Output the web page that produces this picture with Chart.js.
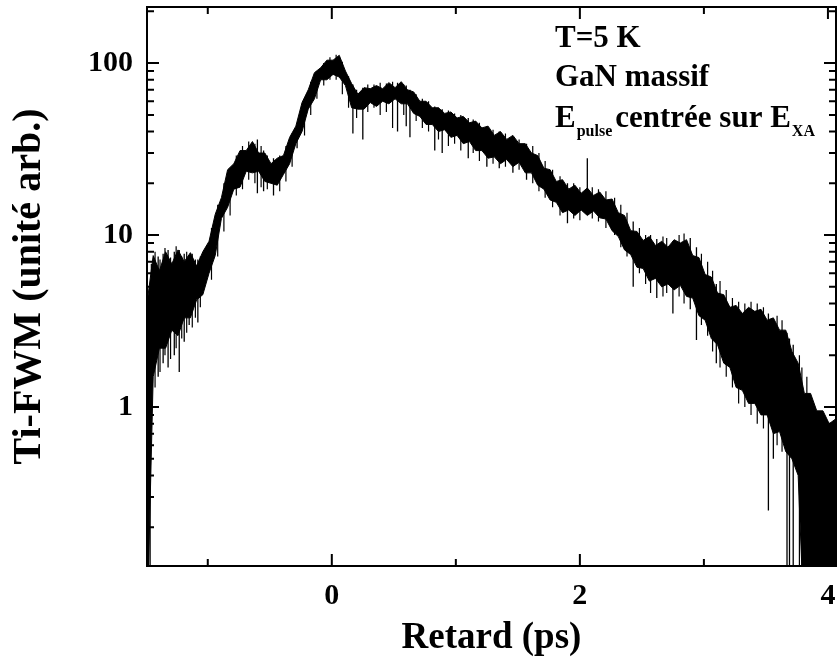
<!DOCTYPE html>
<html>
<head>
<meta charset="utf-8">
<script src="https://cdn.jsdelivr.net/npm/chart.js@4/dist/chart.umd.min.js"></script>
<style>
  html, body { margin: 0; padding: 0; background: #fff; }
  #wrap { width: 837px; height: 666px; }
</style>
</head>
<body>
<div id="wrap"><canvas id="chart"></canvas></div>
<script>
// delay grid (ps) and the upper / lower edge of the noisy trace
const delay = [-1.49,-1.44,-1.39,-1.34,-1.29,-1.24,-1.19,-1.14,-1.09,-1.04,-0.99,-0.94,-0.89,-0.84,-0.79,-0.74,-0.69,-0.64,-0.59,-0.54,-0.49,-0.44,-0.39,-0.34,-0.29,-0.24,-0.19,-0.14,-0.09,-0.04,
  0.01,0.06,0.11,0.16,0.21,0.26,0.31,0.36,0.41,0.46,0.51,0.56,0.61,0.66,0.71,0.76,0.81,0.86,0.91,0.96,
  1.01,1.06,1.11,1.16,1.21,1.26,1.31,1.36,1.41,1.46,1.51,1.56,1.61,1.66,1.71,1.76,1.81,1.86,1.91,1.96,
  2.01,2.06,2.11,2.16,2.21,2.26,2.31,2.36,2.41,2.46,2.51,2.56,2.61,2.66,2.71,2.76,2.81,2.86,2.91,2.96,
  3.01,3.06,3.11,3.16,3.21,3.26,3.31,3.36,3.41,3.46,3.51,3.56,3.61,3.66,3.71,3.76,3.81,3.86,3.91,3.96,4.01,4.06];
const upper = [4.0,7.6,6.2,8.0,6.8,8.2,7.0,7.9,6.6,8.0,9.2,13.2,16.5,24,26,31,31,35,30,30,26,28,29,37,43,59,70,88,94,104,
  104,111,90,76,66,72,71,74,71,77,72,78,70,68,60,60,55,55,51,52,
  48,49,45,46,42,43,38,40,36,38,34,34,30,29,24.5,24,20.5,21,18.5,19.5,
  17.5,18.8,17,17.8,16,16.2,13.5,13,10.6,10.5,9.3,9.8,8.7,9.2,8.5,9.4,9.0,9.4,7.6,7.4,
  5.9,5.7,4.6,4.5,3.8,3.9,3.5,3.8,3.6,3.7,3.2,3.3,2.8,2.8,2.1,1.8,1.2,1.2,0.95,0.95,0.8,0.85];
const lower = [0.05,1.5,2.2,2.2,2.8,2.6,3.3,3.3,4.2,4.5,6.0,7.6,12.5,14.5,18.5,19,23.5,23,23.5,20.5,20,19.5,22.5,26,34,40,54,62,80,80,
  86,83,74,55,54,54,59,56,60,58,62,58,58,51,49,44,44,40,41,37,
  38,34,35,31,31,28,28.5,26,27.5,25,26.5,23,23,19.5,18.5,16,15.5,13.5,14,13,
  14,13,13.8,12.6,12.4,10.6,9.8,8.2,7.7,6.5,6.4,5.4,5.6,5.0,5.2,4.8,5.1,4.4,4.3,3.4,
  3.2,2.5,2.3,1.8,1.7,1.3,1.25,1.05,1.05,0.9,0.9,0.7,0.72,0.55,0.5,0.4,0.05,0.05,0.05,0.05,0.05,0.05];

// deep isolated dips / peaks: delay, top end, bottom end
const spikeDelay  = [-1.48,-1.465,-1.40,-1.36,-1.32,-1.27,-1.23,-1.19,-1.15,-1.08,-0.60,-0.55,-0.47,-0.28,0.17,0.25,0.53,0.60,0.63,0.83,0.89,1.10,1.25,1.35,1.46,1.57,1.90,2.06,2.43,2.62,2.75,2.89,2.94,3.10,3.52,3.56,3.67,3.69,3.72];
const spikeTop    = [3,2,7.5,7.8,8.2,8.0,8.2,7.8,7.6,7.2,36,31,28,44,75,72,77,74,70,56,54,48,43,40,37,34,20,28,12,9.5,9.2,9.6,8.5,5.2,3.5,3.2,2.7,2.5,2.3];
const spikeBottom = [0.05,0.05,1.5,1.8,1.7,2.0,1.6,2.4,3.0,3.1,17.5,18,17,32,39,36,40,43,37,31,30,28,25,24.5,23,21,11.7,14,5,4.3,3.5,3.7,2.45,1.8,0.25,0.5,0.05,0.05,0.05];

// smaller noise strokes that roughen the edges of the trace
const rippleDelay  = [-1.455,-1.425,-1.385,-1.345,-1.30,-1.255,-1.21,-1.17,-1.125,-1.10,-1.06,-0.97,-0.92,-0.87,-0.82,-0.77,-0.72,-0.67,-0.62,-0.57,
  -0.52,-0.42,-0.37,-0.32,-0.22,-0.17,-0.12,-0.065,-0.015,0.035,0.085,0.135,0.20,0.29,0.34,0.39,0.44,0.49,0.58,0.68,
  0.73,0.78,0.86,0.94,0.99,1.04,1.14,1.19,1.30,1.40,1.51,1.62,1.67,1.72,1.78,1.84,1.95,2.00,2.10,2.15,
  2.21,2.28,2.33,2.38,2.48,2.53,2.57,2.67,2.70,2.80,2.84,2.98,3.03,3.07,3.13,3.18,3.23,3.28,3.33,3.38,3.43,3.48,3.59,3.63,3.77,3.79,3.83];
const rippleTop    = [6.8,8,7.2,8.4,7.4,8.6,7.5,8.0,7.8,7.2,7.5,11,15,20,24,29,33,35,34,33,
  29,29,33,39,62,78,90,100,108,112,102,84,70,75,75,77,76,78,75,66,
  62,60,55,53,51,50,47,45,41,39,36,33,30,27,24,22,20,19,19,18.5,
  18,16.5,15,13.5,11,10,10,9.8,9.6,10,10.2,7.8,7,6.2,5.4,4.8,4.3,4.1,4,4.1,4,3.8,3.4,3.2,2.0,1.7,1.5];
const rippleBottom = [0.9,1.3,1.6,2.0,1.9,2.2,2.5,2.7,2.9,3.3,3.8,5.5,7.5,10.5,13,17,18.5,21,20,19,
  18.5,18,20.5,25,38,50,62,74,80,80,66,55,48,52,55,50,52,42,50,46,
  42,40,36,33,34,31,30,27,26,25,24,20,18,16.5,14.5,13,12.5,12.2,12.5,12,
  11,10,8.5,7.5,6,5.2,4.6,4.4,4.6,4.4,4.0,3.0,2.6,2.1,1.7,1.5,1.3,1.05,1.0,0.9,0.8,0.75,0.6,0.55,0.05,0.05,0.05];

const xMajor = [0, 2, 4];
const xMinor = [-1, 1, 3];
const yMajor = [1, 10, 100];
const yMinor = [0.2,0.3,0.4,0.5,0.6,0.7,0.8,0.9,2,3,4,5,6,7,8,9,20,30,40,50,60,70,80,90,200];

const FONT = "'Liberation Serif', 'Times New Roman', serif";

const upperPts = delay.map((d, i) => ({ x: d, y: upper[i] }));
const lowerPts = delay.map((d, i) => ({ x: d, y: lower[i] }));
function strokes(xs, tops, bottoms) {
  const pts = [];
  xs.forEach((d, i) => pts.push({ x: d, y: tops[i] }, { x: d, y: bottoms[i] }, { x: d, y: null }));
  return pts;
}

// inward ticks on all four sides plus the frame
const frameTicks = {
  id: 'frameTicks',
  afterDraw(chart) {
    const { ctx, chartArea: a, scales: { x, y } } = chart;
    ctx.save();
    ctx.strokeStyle = '#000';
    ctx.lineWidth = 2;
    ctx.strokeRect(a.left, a.top, a.right - a.left, a.bottom - a.top);
    const xt = (v, len) => {
      const px = x.getPixelForValue(v);
      ctx.beginPath();
      ctx.moveTo(px, a.bottom); ctx.lineTo(px, a.bottom - len);
      ctx.moveTo(px, a.top); ctx.lineTo(px, a.top + len);
      ctx.stroke();
    };
    const yt = (v, len) => {
      const py = y.getPixelForValue(v);
      if (py < a.top || py > a.bottom) return;
      ctx.beginPath();
      ctx.moveTo(a.left, py); ctx.lineTo(a.left + len, py);
      ctx.moveTo(a.right, py); ctx.lineTo(a.right - len, py);
      ctx.stroke();
    };
    xMajor.forEach(v => xt(v, 12));
    xMinor.forEach(v => xt(v, 7));
    yMajor.forEach(v => yt(v, 12));
    yMinor.forEach(v => yt(v, 7));
    ctx.restore();
  }
};

// sample description in the upper right corner
const notes = {
  id: 'notes',
  afterDraw(chart) {
    const ctx = chart.ctx;
    ctx.save();
    ctx.fillStyle = '#000';
    ctx.textBaseline = 'alphabetic';
    ctx.textAlign = 'left';
    const big = 'bold 31px ' + FONT, small = 'bold 16px ' + FONT;
    ctx.font = big;
    ctx.fillText('T=5 K', 555, 47);
    ctx.fillText('GaN massif', 555, 86);
    let x0 = 555;
    ctx.fillText('E', x0, 127);
    x0 += ctx.measureText('E').width + 1;
    ctx.font = small;
    ctx.fillText('pulse', x0, 136);
    x0 += ctx.measureText('pulse').width + 3;
    ctx.font = big;
    ctx.fillText('centrée sur E', x0, 127);
    x0 += ctx.measureText('centrée sur E').width + 1;
    ctx.font = small;
    ctx.fillText('XA', x0, 136);
    ctx.restore();
  }
};

new Chart(document.getElementById('chart'), {
  type: 'scatter',
  data: {
    datasets: [
      { data: upperPts, showLine: true, borderColor: '#000', backgroundColor: '#000', borderWidth: 1, pointRadius: 0, fill: '+1' },
      { data: lowerPts, showLine: true, borderColor: '#000', borderWidth: 1, pointRadius: 0, fill: false },
      { data: strokes(spikeDelay, spikeTop, spikeBottom), showLine: true, borderColor: '#000', borderWidth: 1.3, pointRadius: 0, fill: false, spanGaps: false },
      { data: strokes(rippleDelay, rippleTop, rippleBottom), showLine: true, borderColor: '#000', borderWidth: 1.2, pointRadius: 0, fill: false, spanGaps: false }
    ]
  },
  options: {
    responsive: true,
    maintainAspectRatio: false,
    animation: false,
    layout: { padding: { top: 7, right: 1, left: 0, bottom: 0 } },
    plugins: { legend: { display: false }, tooltip: { enabled: false } },
    scales: {
      x: {
        type: 'linear',
        min: -1.49,
        max: 4.065,
        afterFit: s => { s.height = 100; s.paddingLeft = 0; s.paddingRight = 0; },
        afterBuildTicks: s => { s.ticks = xMajor.map(v => ({ value: v })); },
        grid: { display: false, drawTicks: false },
        border: { display: false },
        ticks: { color: '#000', padding: 12, maxRotation: 0, font: { family: FONT, size: 30, weight: 'bold' } },
        title: { display: true, text: 'Retard (ps)', color: '#000', padding: { top: 0, bottom: 5 }, font: { family: FONT, size: 37, weight: 'bold' } }
      },
      y: {
        type: 'logarithmic',
        min: 0.119,
        max: 212,
        afterFit: s => { s.width = 147; s.paddingTop = 0; s.paddingBottom = 0; },
        afterBuildTicks: s => { s.ticks = yMajor.map(v => ({ value: v })); },
        grid: { display: false, drawTicks: false },
        border: { display: false },
        ticks: { color: '#000', padding: 14, callback: v => String(v), font: { family: FONT, size: 30, weight: 'bold' } },
        title: { display: true, text: 'Ti-FWM (unité arb.)', color: '#000', padding: { top: 6, bottom: 0 }, font: { family: FONT, size: 40, weight: 'bold' } }
      }
    }
  },
  plugins: [frameTicks, notes]
});
</script>
</body>
</html>
